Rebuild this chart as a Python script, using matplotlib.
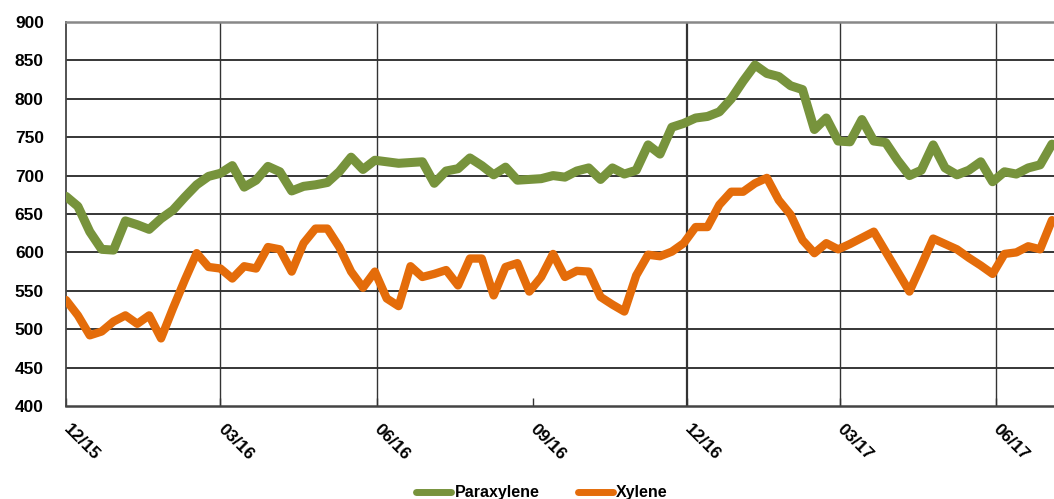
import matplotlib
matplotlib.use('Agg')
import matplotlib.pyplot as plt
import matplotlib.transforms as mtransforms

plt.rcParams['font.family'] = ['Liberation Sans', 'DejaVu Sans']

# weekly prices, Dec 2015 - Jul 2017
paraxylene = [673, 660, 627, 604, 603, 641, 636, 630, 644, 655,
              672, 688, 699, 703, 713, 685, 694, 712, 705, 680,
              686, 688, 691, 705, 724, 708, 720, 718, 716, 717,
              718, 690, 706, 709, 723, 713, 701, 711, 694, 695,
              696, 700, 698, 706, 710, 695, 710, 702, 707, 740,
              728, 763, 768, 775, 777, 783, 800, 823, 844, 833,
              829, 817, 812, 760, 775, 745, 744, 773, 745, 743,
              720, 700, 707, 740, 710, 701, 707, 718, 692, 705,
              702, 710, 714, 741]
xylene = [538, 518, 492, 497, 510, 518, 507, 518, 488, 527,
          564, 599, 581, 579, 566, 582, 579, 607, 604, 575,
          612, 631, 631, 607, 575, 554, 575, 540, 530, 582,
          568, 572, 577, 557, 592, 592, 544, 581, 586, 549,
          568, 598, 568, 576, 575, 542, 532, 523, 570, 597,
          595, 601, 612, 633, 633, 662, 679, 679, 690, 697,
          668, 649, 616, 599, 612, 604, 611, 619, 627, 601,
          575, 549, 583, 618, 611, 604, 593, 583, 572, 598,
          600, 608, 604, 642]
weeks = list(range(len(xylene)))

# quarter ticks, in weeks from start
tick_pos = [0, 13, 26.14, 39.29, 52.29, 65.14, 78.29]
tick_labels = ['12/15', '03/16', '06/16', '09/16', '12/16', '03/17', '06/17']
vlines = [13, 26.14, 52.29, 65.14, 78.29]

fig = plt.figure(figsize=(10.54, 4.99), dpi=100)
ax = fig.add_axes([66/1054, 93/499, 988/1054, 384/499])

for v in range(450, 900, 50):
    ax.axhline(v, color='black', lw=1.1, zorder=1)
for p in vlines:
    ax.axvline(p, color='#333333', lw=1.6 if p == 52.29 else 1.0, zorder=1)

ax.plot(weeks, paraxylene, color='#77933C', lw=6.5, solid_joinstyle='round',
        solid_capstyle='round', label='Paraxylene', zorder=3)
ax.plot(weeks, xylene, color='#E46C0A', lw=6.0, solid_joinstyle='round',
        solid_capstyle='round', label='Xylene', zorder=3)

ax.set_xlim(0, 83.17)
ax.set_ylim(400, 900)
ax.set_yticks(range(400, 901, 50))
ax.tick_params(axis='y', length=0, pad=16, labelsize=12.5)
for t in ax.get_yticklabels():
    t.set_fontweight('bold')

ax.set_xticks(tick_pos)
ax.set_xticklabels(tick_labels, rotation=-45, ha='left', va='top',
                   rotation_mode='anchor', fontweight='bold', fontsize=12.5)
ax.tick_params(axis='x', direction='in', length=6, width=1, pad=11, color='#333333')
shift = mtransforms.ScaledTranslation(5/100, 0, fig.dpi_scale_trans)
for t in ax.get_xticklabels():
    t.set_transform(t.get_transform() + shift)

ax.spines['top'].set_color('#888888')
ax.spines['top'].set_linewidth(1.8)
ax.spines['right'].set_visible(False)
ax.spines['left'].set_color('#444444')
ax.spines['left'].set_linewidth(1.3)
ax.spines['bottom'].set_color('#444444')
ax.spines['bottom'].set_linewidth(1.8)

leg = fig.legend(loc='center', bbox_to_anchor=(542/1054, 6/499), ncol=2,
                 frameon=False, handlelength=2.2, handletextpad=0.2,
                 columnspacing=2.4, prop={'weight': 'bold', 'size': 11.5})
for h in leg.get_lines():
    h.set_linewidth(5)

fig.savefig('out.png', dpi=100)
